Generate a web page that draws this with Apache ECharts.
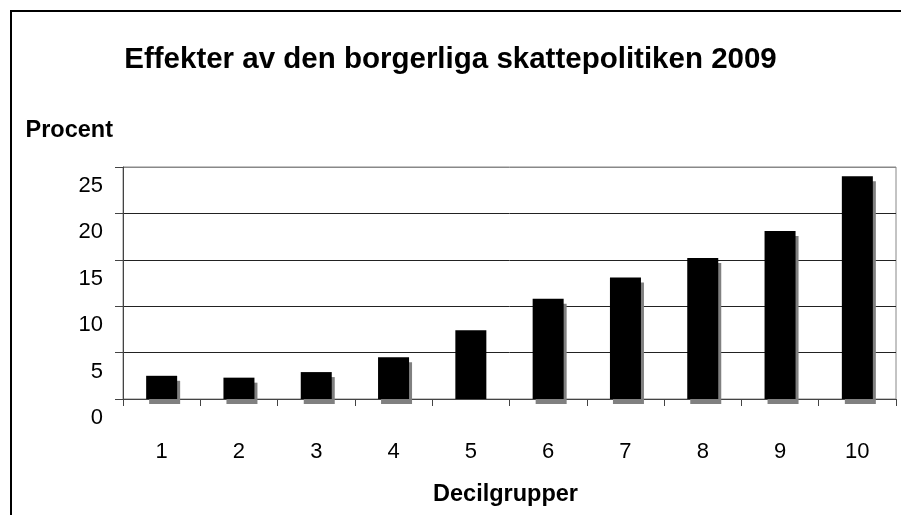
<!DOCTYPE html>
<html>
<head>
<meta charset="utf-8">
<title>Effekter av den borgerliga skattepolitiken 2009</title>
<script src="https://cdn.jsdelivr.net/npm/echarts@6/dist/echarts.min.js"></script>
<style>
  html, body { margin: 0; padding: 0; background: #fff; }
  #chart { width: 901px; height: 515px; }
</style>
</head>
<body>
<div id="chart"></div>
<script>
// decile groups and the effect in percent
var deciles = ['1', '2', '3', '4', '5', '6', '7', '8', '9', '10']
var procent = [2.5, 2.3, 2.9, 4.5, 7.4, 10.8, 13.1, 15.2, 18.1, 24.0]
var noShadow = [5] // decile without the grey shadow in the original

var font = "'Liberation Sans', Arial, sans-serif"

var barData = procent.map(function (v, i) {
  var item = {value: v}
  if (noShadow.indexOf(i + 1) >= 0) {
    item.itemStyle = {shadowColor: 'rgba(0,0,0,0)'}
  }
  return item
})

var chart = echarts.init(document.getElementById('chart'))
chart.setOption({
  animation: false,
  backgroundColor: '#fff',
  textStyle: {fontFamily: font},
  title: {
    text: 'Effekter av den borgerliga skattepolitiken 2009',
    left: 'center',
    top: 40,
    padding: [5, 0, 5, 8],
    textStyle: {fontFamily: font, fontSize: 29.5, fontWeight: 'bold', color: '#000'}
  },
  graphic: [{
    type: 'rect',
    shape: {x: 11, y: 11, width: 1000, height: 1000},
    style: {fill: 'none', stroke: '#000', lineWidth: 2},
    silent: true
  }],
  grid: {
    left: 123,
    right: 5,
    top: 167,
    bottom: 116,
    show: true,
    borderColor: '#888',
    borderWidth: 1
  },
  xAxis: {
    type: 'category',
    data: deciles,
    name: 'Decilgrupper',
    nameLocation: 'middle',
    nameGap: 84,
    nameTextStyle: {fontFamily: font, fontSize: 23.5, fontWeight: 'bold', color: '#000', padding: [0, 8, 0, 0]},
    axisLine: {lineStyle: {color: '#444', width: 1}},
    axisTick: {show: true, length: 7, lineStyle: {color: '#444'}},
    axisLabel: {fontFamily: font, fontSize: 22, color: '#000', margin: 42}
  },
  yAxis: {
    type: 'value',
    min: 0,
    max: 25,
    interval: 5,
    name: 'Procent',
    nameLocation: 'end',
    nameGap: 24,
    nameTextStyle: {fontFamily: font, fontSize: 23.5, fontWeight: 'bold', color: '#000', align: 'right', padding: [0, 10, 0, 0]},
    axisLine: {show: true, lineStyle: {color: '#444', width: 1}},
    axisTick: {show: true, length: 8, lineStyle: {color: '#444'}},
    axisLabel: {fontFamily: font, fontSize: 22, color: '#000', margin: 20, verticalAlign: 'top', padding: [8, 0, 0, 0]},
    splitLine: {show: true, lineStyle: {color: ['#444', '#222', '#222', '#222', '#222', '#888'], width: 1}}
  },
  series: [{
    type: 'bar',
    data: barData,
    barWidth: 31,
    itemStyle: {
      color: '#000',
      shadowColor: '#808080',
      shadowBlur: 0,
      shadowOffsetX: 3,
      shadowOffsetY: 5
    }
  }]
})
</script>
</body>
</html>
